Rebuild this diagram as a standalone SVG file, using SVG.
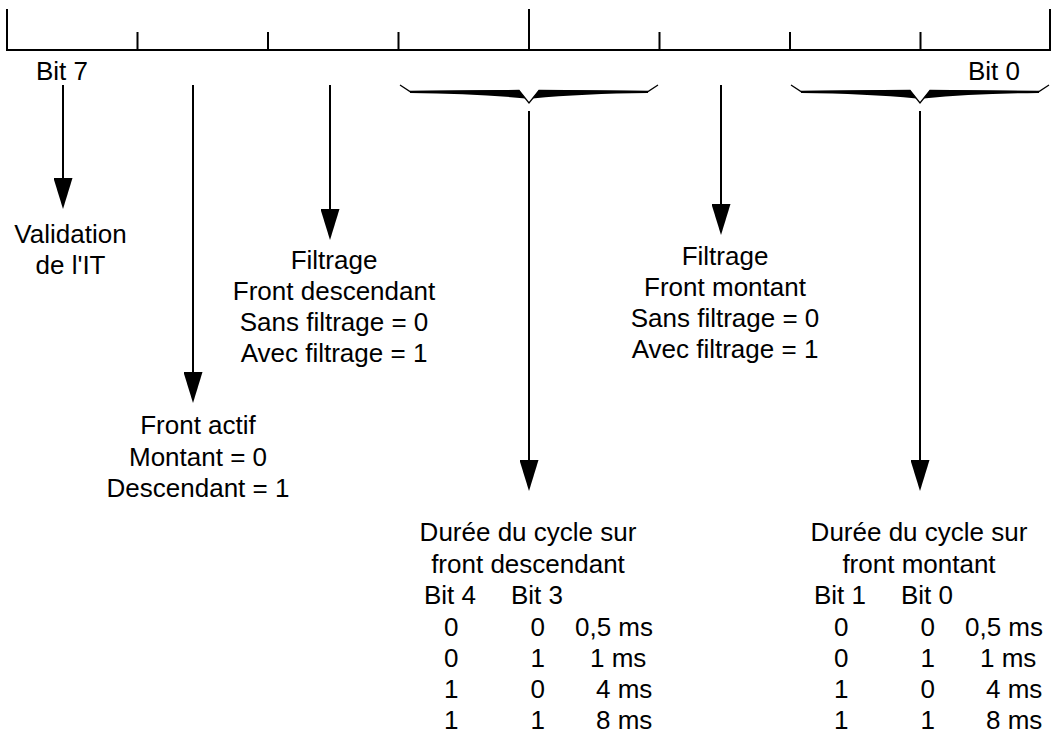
<svg xmlns="http://www.w3.org/2000/svg" width="1055" height="735" viewBox="0 0 1055 735">
<style>
.t{font-family:"Liberation Sans",Arial,sans-serif;font-size:26px;fill:#000}
.c{text-anchor:middle}
.ln{stroke:#000;stroke-width:2;fill:none}
.ar{stroke:#000;stroke-width:2;fill:none;marker-end:url(#ah)}
.bo{stroke:#000;stroke-width:1.3;fill:none;stroke-linejoin:miter}
.bf{fill:#000;stroke:none}
</style>
<defs>
<marker id="ah" markerUnits="userSpaceOnUse" markerWidth="31" markerHeight="19" viewBox="0 0 31 19" refX="23" refY="9.5" orient="auto">
<path d="M0,0 L31,9.5 L0,19 Z" fill="#000"/>
</marker>
<g id="brace">
<polyline class="bo" points="0,85 10,91.5 119,90.5 129,103 139,90.5 248,91.5 258,85"/>
<path class="bf" d="M10,91 L119,90 L125.5,98.5 Q75,93.5 10,93 Z"/>
<path class="bf" d="M248,91 L139,90 L132.5,98.5 Q183,93.5 248,93 Z"/>
</g>
</defs>

<g id="register">
<path class="ln" d="M7,50 H1050 M7,9 V51 M529,9 V51 M1050,9 V51 M137.5,32 V51 M268,32 V51 M398.5,32 V51 M659.5,32 V51 M790,32 V51 M920.5,32 V51"/>
<text class="t" x="36" y="80">Bit 7</text>
<text class="t" x="968" y="80">Bit 0</text>
</g>

<g id="braces">
<use href="#brace" transform="translate(400,0)"/>
<use href="#brace" transform="translate(791,0)"/>
</g>

<g id="connectors">
<line class="ar" x1="63" y1="85" x2="63" y2="201"/>
<line class="ar" x1="193" y1="85" x2="193" y2="395"/>
<line class="ar" x1="330" y1="85" x2="330" y2="232"/>
<line class="ar" x1="721" y1="85" x2="721" y2="227"/>
<line class="ar" x1="529" y1="111" x2="529" y2="483"/>
<line class="ar" x1="920" y1="111" x2="920" y2="483"/>
</g>

<g id="validation">
<text class="t c" x="70.5" y="243">Validation</text>
<text class="t c" x="70.5" y="274">de l'IT</text>
</g>

<g id="front-actif">
<text class="t c" x="198" y="434">Front actif</text>
<text class="t c" x="198" y="466">Montant = 0</text>
<text class="t c" x="198" y="497">Descendant = 1</text>
</g>

<g id="filtrage-descendant">
<text class="t c" x="334" y="269">Filtrage</text>
<text class="t c" x="334" y="300">Front descendant</text>
<text class="t c" x="334" y="331">Sans filtrage = 0</text>
<text class="t c" x="334" y="362">Avec filtrage = 1</text>
</g>

<g id="filtrage-montant">
<text class="t c" x="725" y="265">Filtrage</text>
<text class="t c" x="725" y="296">Front montant</text>
<text class="t c" x="725" y="327">Sans filtrage = 0</text>
<text class="t c" x="725" y="358">Avec filtrage = 1</text>
</g>

<g id="duree-descendant">
<text class="t c" x="528" y="541">Durée du cycle sur</text>
<text class="t c" x="528" y="572.5">front descendant</text>
<text class="t" x="424" y="604">Bit 4</text>
<text class="t" x="511" y="604">Bit 3</text>
<text class="t" x="444" y="635.5">0</text><text class="t" x="530.5" y="635.5">0</text><text class="t" x="575" y="635.5">0,5 ms</text>
<text class="t" x="444" y="667">0</text><text class="t" x="530.5" y="667">1</text><text class="t" x="590" y="667">1 ms</text>
<text class="t" x="444" y="698">1</text><text class="t" x="530.5" y="698">0</text><text class="t" x="596" y="698">4 ms</text>
<text class="t" x="444" y="729">1</text><text class="t" x="530.5" y="729">1</text><text class="t" x="596" y="729">8 ms</text>
</g>

<g id="duree-montant">
<text class="t c" x="919" y="541">Durée du cycle sur</text>
<text class="t c" x="919" y="572.5">front montant</text>
<text class="t" x="814" y="604">Bit 1</text>
<text class="t" x="901" y="604">Bit 0</text>
<text class="t" x="834" y="635.5">0</text><text class="t" x="920.5" y="635.5">0</text><text class="t" x="965" y="635.5">0,5 ms</text>
<text class="t" x="834" y="667">0</text><text class="t" x="920.5" y="667">1</text><text class="t" x="980" y="667">1 ms</text>
<text class="t" x="834" y="698">1</text><text class="t" x="920.5" y="698">0</text><text class="t" x="986" y="698">4 ms</text>
<text class="t" x="834" y="729">1</text><text class="t" x="920.5" y="729">1</text><text class="t" x="986" y="729">8 ms</text>
</g>
</svg>
